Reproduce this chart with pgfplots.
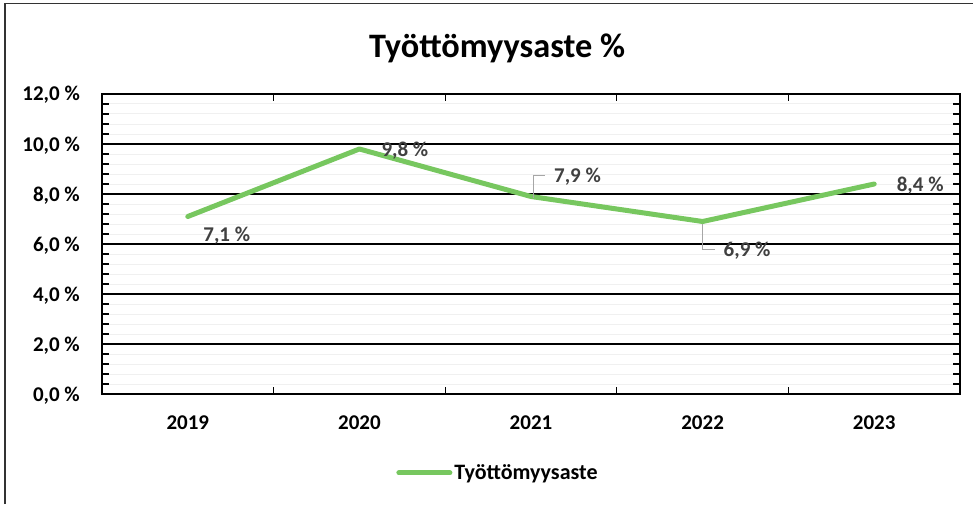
\documentclass[border=0pt]{standalone}
\usepackage{pgfplots}
\pgfplotsset{compat=1.18}
\usepackage{fontspec}
\setmainfont{Carlito}
\definecolor{linegreen}{RGB}{119,199,95}
\definecolor{lblgray}{RGB}{64,64,64}
\definecolor{leadgray}{RGB}{166,166,166}
\tikzset{lbl/.style={font=\bfseries\fontsize{21}{24}\selectfont, text=lblgray, anchor=base, inner sep=0pt}}
\begin{document}
\begin{tikzpicture}[x=1pt,y=1pt]
\path[use as bounding box] (0,0) rectangle (973,504);
\draw[line width=1.5pt, black!80] (5,0) -- (5,500.5) -- (973,500.5);
\node[anchor=base, font=\bfseries\fontsize{34.3}{40}\selectfont] at (497,446.5) {Työttömyysaste \%};
\begin{axis}[
  at={(102pt,110pt)}, anchor=south west,
  scale only axis, width=858pt, height=300pt,
  xmin=-0.5, xmax=4.5, ymin=0, ymax=12,
  xtick={0,1,2,3,4}, xticklabels={2019,2020,2021,2022,2023},
  major x tick style={draw=none},
  minor xtick={0.5,1.5,2.5,3.5},
  minor x tick style={black, line width=1.3pt},
  ytick={0,2,4,6,8,10,12},
  minor y tick num=4,
  y tick style={black, line width=1.1pt},
  tick align=inside,
  major tick length=7pt, minor tick length=7pt,
  axis line style={black, line width=1.4pt},
  ymajorgrids, yminorgrids,
  major grid style={black, line width=1.3pt},
  minor grid style={color=black!6, line width=1pt},
  /pgf/number format/assume math mode=true,
  yticklabel={\pgfmathprintnumber[fixed,fixed zerofill,precision=1,use comma]{\tick}~\%},
  yticklabel style={font=\bfseries\fontsize{21}{24}\selectfont, anchor=base east, inner sep=0pt, xshift=-22pt, yshift=-7pt},
  xticklabel style={font=\bfseries\fontsize{21}{24}\selectfont, anchor=base, inner sep=0pt, yshift=-35pt},
  legend style={at={(0.4615,-0.263)}, anchor=center, draw=none, fill=none,
    font=\bfseries\fontsize{22}{26}\selectfont, inner sep=0pt},
  legend image code/.code={\draw[#1, line cap=round] (0pt,0pt) -- (51pt,0pt);},
]
\addplot[color=linegreen, line width=5pt, line cap=round, line join=round] coordinates {
  (0,7.1) (1,9.8) (2,7.9) (3,6.9) (4,8.4)
};
\addlegendentry{Työttömyysaste}
\draw[leadgray, line width=1pt] ([xshift=2pt,yshift=-1pt]axis cs:2,7.9) -- ([xshift=2pt,yshift=21pt]axis cs:2,7.9) -- ([xshift=14pt,yshift=21pt]axis cs:2,7.9);
\draw[leadgray, line width=1pt] ([yshift=-2pt]axis cs:3,6.9) -- ([yshift=-28pt]axis cs:3,6.9) -- ([xshift=12pt,yshift=-28pt]axis cs:3,6.9);
\node[lbl, xshift=39pt, yshift=-25.2pt] at (axis cs:0,7.1) {7,1~\%};
\node[lbl, xshift=45.5pt, yshift=-7.7pt] at (axis cs:1,9.8) {9,8~\%};
\node[lbl, xshift=46.5pt, yshift=13.8pt] at (axis cs:2,7.9) {7,9~\%};
\node[lbl, xshift=44.5pt, yshift=-35.2pt] at (axis cs:3,6.9) {6,9~\%};
\node[lbl, xshift=46pt, yshift=-7.7pt] at (axis cs:4,8.4) {8,4~\%};
\end{axis}
\end{tikzpicture}
\end{document}
